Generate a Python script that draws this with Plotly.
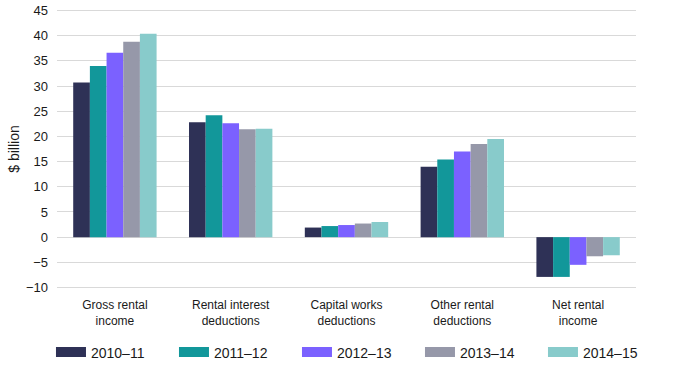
import plotly.graph_objects as go

categories = ["Gross rental<br>income", "Rental interest<br>deductions", "Capital works<br>deductions",
              "Other rental<br>deductions", "Net rental<br>income"]
years = ["2010\u201311", "2011\u201312", "2012\u201313", "2013\u201314", "2014\u201315"]
v2010_11 = [30.7, 22.8, 1.9, 14.0, -7.9]
v2011_12 = [34.0, 24.2, 2.2, 15.4, -7.9]
v2012_13 = [36.6, 22.6, 2.4, 17.0, -5.5]
v2013_14 = [38.8, 21.4, 2.7, 18.5, -3.8]
v2014_15 = [40.4, 21.5, 3.0, 19.5, -3.6]
series = [v2010_11, v2011_12, v2012_13, v2013_14, v2014_15]
colors = ["#2e3156", "#12979a", "#7b61ff", "#9698a9", "#88cbcb"]
y_ticks = [-10, -5, 0, 5, 10, 15, 20, 25, 30, 35, 40, 45]

fig = go.Figure()
for name, vals, col in zip(years, series, colors):
    fig.add_trace(go.Bar(x=categories, y=vals, name=name, marker=dict(color=col, line=dict(width=0)),
                         showlegend=False))
for name, col in zip(years, colors):
    fig.add_trace(go.Scatter(x=[None], y=[None], mode="lines", name=name,
                             line=dict(color=col, width=12)))

fig.update_layout(
    width=689, height=365,
    margin=dict(l=57, r=53, t=8.5, b=75.5, autoexpand=False),
    paper_bgcolor="white", plot_bgcolor="white",
    barmode="group", bargap=0.28, bargroupgap=0,
    font=dict(family="Liberation Sans, Arial, sans-serif", size=13, color="#1a1a1a"),
    legend=dict(orientation="h", x=-0.0104, xanchor="left", y=-0.2266, yanchor="middle",
                font=dict(size=14, family="Liberation Sans, Arial, sans-serif"),
                entrywidth=78, entrywidthmode="pixels", itemwidth=30),
    showlegend=True,
)
fig.update_xaxes(showgrid=False, showline=False, ticks="", ticklabelstandoff=7,
                 tickfont=dict(family="Liberation Sans, Arial, sans-serif", size=12))
fig.update_yaxes(range=[-10.3, 45.3], tickvals=y_ticks, showgrid=True, gridcolor="#d9d9d9", gridwidth=1,
                 zeroline=False, showline=False, ticks="", ticklabelstandoff=8,
                 ticklabeloverflow="allow",
                 title=dict(text="$ billion", font=dict(size=14), standoff=3),
                 tickfont=dict(size=13))
fig.write_html("out.html", config={"displayModeBar": False},
               post_script="document.body.style.margin='0';")
